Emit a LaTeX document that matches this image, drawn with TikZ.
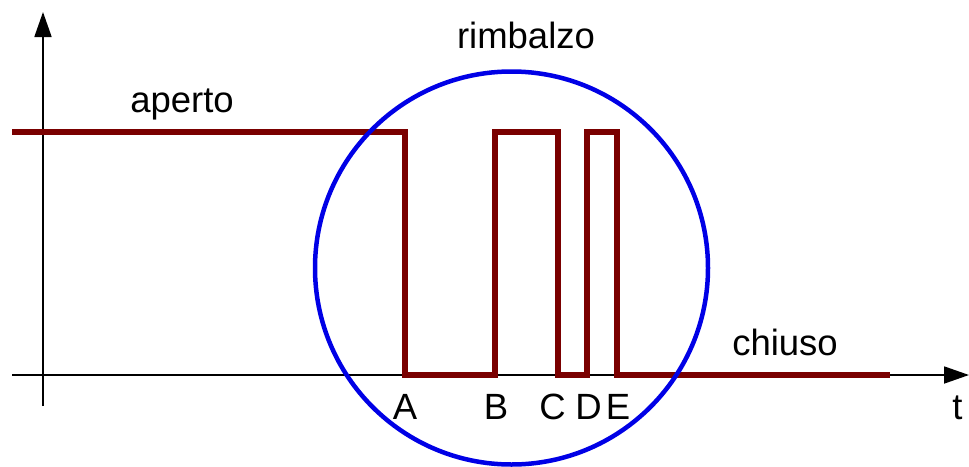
\documentclass[tikz,border=0pt]{standalone}
\usepackage{fontspec}
\setmainfont{Liberation Sans}
\usetikzlibrary{arrows.meta}
\definecolor{sigred}{RGB}{122,0,0}
\definecolor{ringblue}{RGB}{0,0,230}
\begin{document}
\begin{tikzpicture}[x=1pt,y=-1pt,
  axisline/.style={line width=1.8pt,black,-{Triangle[width=17pt,length=25pt]}},
  signal/.style={line width=6pt,sigred,line join=miter},
  ring/.style={line width=4.5pt,ringblue},
  lbl/.style={anchor=base,inner sep=0pt,font=\fontsize{36.5}{40}\selectfont}]
\useasboundingbox (0,0) rectangle (969,466);
% axes
\coordinate (yb) at (43,406);
\coordinate (yt) at (43,12);
\coordinate (xl) at (12,375);
\coordinate (xr) at (969,375);
\draw[axisline] (yb) -- (yt);
\draw[axisline] (xl) -- (xr);
% signal
\coordinate (s0) at (12,132);
\coordinate (sA) at (405,132);
\coordinate (sB) at (495,132);
\coordinate (sC) at (557.5,132);
\coordinate (sD) at (587,132);
\coordinate (sE) at (617,132);
\coordinate (send) at (890,374.5);
\draw[signal] (s0) -- (sA) -- (405,374.5) -- (495,374.5) -- (sB) -- (sC)
  -- (557.5,374.5) -- (587,374.5) -- (sD) -- (sE) -- (617,374.5) -- (send);
% ring
\node[ring,draw,circle,minimum size=393pt,inner sep=0pt] (circ) at (511.5,268) {};
% labels
\node[lbl] (aperto) at (182,112) {aperto};
\node[lbl] (rimb) at (526,48) {rimbalzo};
\node[lbl] (chiuso) at (785,355) {chiuso};
\node[lbl] (A) at (405,419) {A};
\node[lbl] (B) at (496,419) {B};
\node[lbl] (C) at (552.5,419) {C};
\node[lbl] (D) at (588.5,419) {D};
\node[lbl] (E) at (618,419) {E};
\node[lbl] (t) at (957.5,419) {t};
\end{tikzpicture}
\end{document}
